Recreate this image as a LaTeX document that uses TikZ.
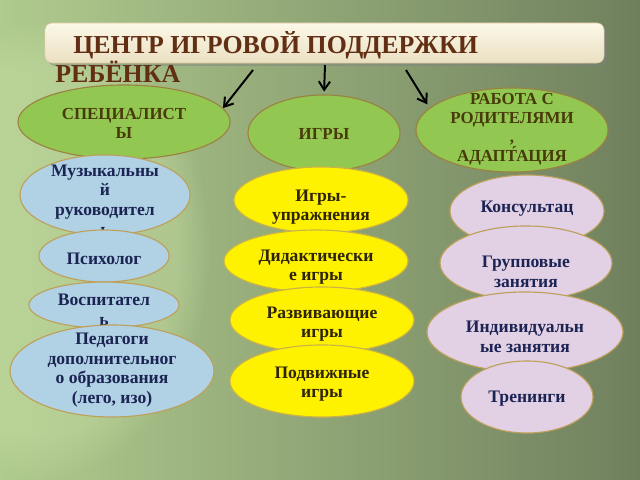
\documentclass[tikz,border=0pt]{standalone}
\usepackage{fontspec}
\setmainfont{Liberation Serif}
\usetikzlibrary{shapes.geometric,arrows.meta,shadows,fadings}

\definecolor{bgleft}{RGB}{176,203,142}
\definecolor{bgright}{RGB}{112,128,94}
\definecolor{glow}{RGB}{200,224,165}
\definecolor{titlebrown}{RGB}{98,46,20}
\definecolor{boxtop}{RGB}{252,248,232}
\definecolor{boxbot}{RGB}{234,224,194}
\definecolor{leafgreen}{RGB}{146,200,82}
\definecolor{olive}{RGB}{72,58,10}
\definecolor{skyblue}{RGB}{176,210,228}
\definecolor{lilac}{RGB}{226,208,228}
\definecolor{rim}{RGB}{190,160,90}
\definecolor{navy}{RGB}{28,36,84}
\definecolor{ink}{RGB}{45,35,5}

\begin{document}
\begin{tikzpicture}[x=0.025cm,y=-0.025cm,
  oval/.style={ellipse, draw=rim, line width=0.8pt, inner sep=0pt},
  headoval/.style={oval, fill=leafgreen, draw=rim!70!olive},
  blueoval/.style={oval, fill=skyblue},
  yellowoval/.style={oval, fill=yellow, draw=rim!80!yellow},
  pinkoval/.style={oval, fill=lilac},
  txt/.style={align=center, font=\bfseries\fontsize{12.5}{14}\selectfont, text=navy},
  headtxt/.style={txt, font=\bfseries\fontsize{12}{13.5}\selectfont, text=olive},
  arr/.style={line width=1.4pt, -{Straight Barb[length=6pt,width=8pt]}}]

\useasboundingbox (0,0) rectangle (640,480);

% background
\shade[left color=bgleft, right color=bgright] (0,0) rectangle (640,480);
\fill[glow, path fading=circle with fuzzy edge 20 percent, opacity=0.4] (40,250) ellipse (170 and 230);

% title
\node (title) [rounded corners=5pt, draw=rim!60, top color=boxtop, bottom color=boxbot,
  minimum width=13.975cm, minimum height=1cm,
  drop shadow={opacity=0.45, shadow xshift=2pt, shadow yshift=-2pt}] at (324.5,43) {};
\node (titleA) [anchor=base west, inner sep=0pt, text=titlebrown, font=\bfseries\fontsize{18.4}{22}\selectfont]
  at (73,53) {ЦЕНТР ИГРОВОЙ ПОДДЕРЖКИ};
\node (titleB) [anchor=base west, inner sep=0pt, text=titlebrown, font=\bfseries\fontsize{18.4}{22}\selectfont]
  at (55,82) {РЕБЁНКА};

% three heads
\node (spec) [headoval, minimum width=5.3cm, minimum height=1.85cm] at (124,122) {};
\node (spec-t) [headtxt] at (124,123) {СПЕЦИАЛИСТ\\Ы};
\node (games) [headoval, minimum width=3.8cm, minimum height=1.9cm] at (324,133) {};
\node (games-t) [headtxt] at (324,134) {ИГРЫ};
\node (work) [headoval, minimum width=4.8cm, minimum height=2.1cm] at (512,130) {};
\node (work-t) [headtxt] at (512,129) {РАБОТА С\\РОДИТЕЛЯМИ\\,\\АДАПТ́АЦИЯ};

\coordinate (a1) at (253,70);
\coordinate (a2) at (325,65);
\coordinate (a3) at (406,70);
\draw[arr] (a1) -- (spec.8);
\draw[arr, shorten >=2pt] (a2) -- (games.north);
\draw[arr, shorten >=3pt] (a3) -- (work.165);

% specialists
\node (muz) [blueoval, minimum width=4.25cm, minimum height=2cm] at (105,195) {};
\node (muz-t) [txt] at (105,200) {Музыкальны\\й\\руководител\\ь};
\node (psy) [blueoval, minimum width=3.25cm, minimum height=1.3cm] at (104,256) {};
\node (psy-t) [txt] at (104,259) {Психолог};
\node (vosp) [blueoval, minimum width=3.75cm, minimum height=1.15cm] at (104,305) {};
\node (vosp-t) [txt] at (104,310) {Воспитател\\ь};
\node (ped) [blueoval, minimum width=5.1cm, minimum height=2.3cm] at (112,371) {};
\node (ped-t) [txt] at (112,370) {Педагоги\\дополнительног\\о образования\\(лего, изо)};

% games
\node (upr) [yellowoval, minimum width=4.35cm, minimum height=1.65cm] at (321,200) {};
\node (upr-t) [txt, text=ink] at (321,207) {Игры-\\упражнения};
\node (did) [yellowoval, minimum width=4.6cm, minimum height=1.55cm] at (316,261) {};
\node (did-t) [txt, text=ink] at (316,267) {Дидактически\\е игры};
\node (razv) [yellowoval, minimum width=4.6cm, minimum height=1.65cm] at (322,320) {};
\node (razv-t) [txt, text=ink] at (322,324) {Развивающие\\игры};
\node (podv) [yellowoval, minimum width=4.6cm, minimum height=1.8cm] at (322,381) {};
\node (podv-t) [txt, text=ink] at (322,384) {Подвижные\\игры};

% parents
\node (kons) [pinkoval, minimum width=3.85cm, minimum height=1.8cm] at (527,211) {};
\node (kons-t) [txt] at (527,209) {Консультац};
\node (grup) [pinkoval, minimum width=4.3cm, minimum height=1.85cm] at (526,263) {};
\node (grup-t) [txt] at (526,272) {Групповые\\занятия};
\node (ind) [pinkoval, minimum width=4.9cm, minimum height=2cm] at (525,332) {};
\node (ind-t) [txt] at (525,337) {Индивидуальн\\ые занятия};
\node (tren) [pinkoval, minimum width=3.3cm, minimum height=1.8cm] at (527,397) {};
\node (tren-t) [txt] at (527,399) {Тренинги};
\end{tikzpicture}
\end{document}
